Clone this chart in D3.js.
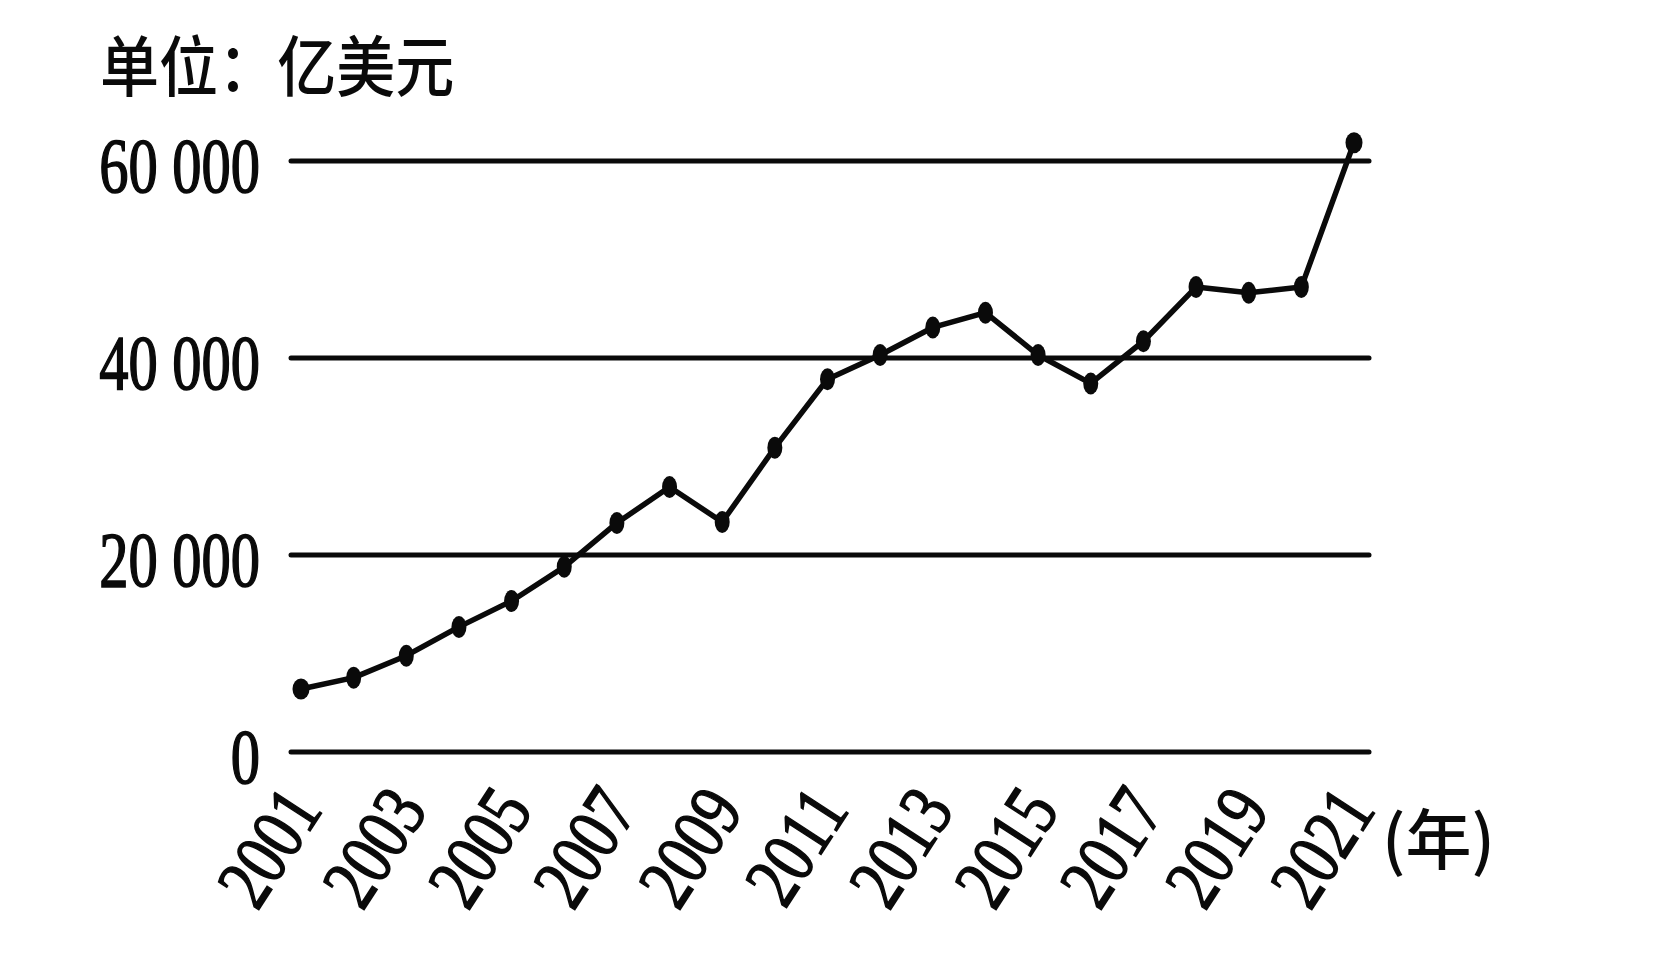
<!DOCTYPE html>
<html>
<head>
<meta charset="utf-8">
<script src="https://cdn.jsdelivr.net/npm/d3@7"></script>
<style>
  html, body { margin: 0; padding: 0; background: #ffffff; }
  svg { display: block; }
</style>
</head>
<body>
<svg id="chart" width="1680" height="964"></svg>
<script>
// ---- data ----
const years = [2001, 2002, 2003, 2004, 2005, 2006, 2007, 2008, 2009, 2010,
               2011, 2012, 2013, 2014, 2015, 2016, 2017, 2018, 2019, 2020, 2021];
const values = [6400, 7550, 9780, 12700, 15330, 18800, 23250, 26900, 23350, 30900,
                37850, 40300, 43100, 44600, 40300, 37420, 41700, 47200, 46620, 47200, 61850];
const yTicks = [0, 20000, 40000, 60000];
const yTickLabels = ["0", "20 000", "40 000", "60 000"];
const xTicks = [2001, 2003, 2005, 2007, 2009, 2011, 2013, 2015, 2017, 2019, 2021];
const unitLabel = "单位：亿美元";
const yearUnit = "(年)";

// ---- layout ----
const svg = d3.select("#chart");
const x = d3.scaleLinear().domain([2001, 2021]).range([301, 1354]);
const y = d3.scaleLinear().domain([0, 60000]).range([752, 161]);
const gridLeft = x.range()[0] - 10;
const gridRight = x.range()[1] + 15;
const ink = "#0a0a0a";
const numFont = "'Liberation Serif', 'DejaVu Serif', serif";
const cjkFont = "'Noto Sans CJK SC', 'Noto Sans', sans-serif";

// unit label
svg.append("text")
  .attr("transform", "translate(100,91) scale(0.895,1)")
  .attr("font-family", cjkFont)
  .attr("font-size", 66)
  .attr("font-weight", 500)
  .attr("fill", ink)
  .text(unitLabel);

// gridlines
svg.append("g").selectAll("line")
  .data(yTicks)
  .join("line")
  .attr("x1", gridLeft)
  .attr("x2", gridRight)
  .attr("y1", d => y(d))
  .attr("y2", d => y(d))
  .attr("stroke", ink)
  .attr("stroke-width", 5)
  .attr("stroke-linecap", "round");

// y axis labels
const yAxis = d3.axisLeft(y)
  .tickValues(yTicks)
  .tickSize(0)
  .tickFormat((d, i) => yTickLabels[i]);
const yg = svg.append("g").attr("transform", `translate(${gridLeft},0)`).call(yAxis);
yg.select(".domain").remove();
yg.selectAll(".tick text")
  .attr("font-family", numFont)
  .attr("font-size", 78)
  .attr("fill", ink)
  .attr("stroke", ink)
  .attr("stroke-width", 1.6)
  .attr("text-anchor", "end")
  .attr("dy", null)
  .attr("x", -31 / 0.75)
  .attr("y", 30)
  .attr("transform", "scale(0.75,1)");

// x axis labels
const xAxis = d3.axisBottom(x)
  .tickValues(xTicks)
  .tickSize(0)
  .tickFormat(d3.format("d"));
const xg = svg.append("g").attr("transform", `translate(0,${y(0)})`).call(xAxis);
xg.select(".domain").remove();
xg.selectAll(".tick text")
  .attr("font-family", numFont)
  .attr("font-size", 76)
  .attr("fill", ink)
  .attr("stroke", ink)
  .attr("stroke-width", 1.6)
  .attr("text-anchor", "end")
  .attr("dy", null)
  .attr("x", 0)
  .attr("y", 0)
  .attr("transform", "translate(22,58) rotate(-57) scale(0.8,1)");

// year unit
svg.append("text")
  .attr("x", x(2021) + 28)
  .attr("y", y(0) + 112)
  .attr("font-family", cjkFont)
  .attr("font-size", 66)
  .attr("font-weight", 500)
  .attr("fill", ink)
  .text(yearUnit);

// data line
const line = d3.line().x((d, i) => x(years[i])).y(d => y(d));
svg.append("path")
  .datum(values)
  .attr("d", line)
  .attr("fill", "none")
  .attr("stroke", ink)
  .attr("stroke-width", 5.5)
  .attr("stroke-linejoin", "round")
  .attr("stroke-linecap", "round");

// markers
svg.append("g").selectAll("ellipse")
  .data(values)
  .join("ellipse")
  .attr("cx", (d, i) => x(years[i]))
  .attr("cy", d => y(d))
  .attr("rx", (d, i) => (i === 0 || i === values.length - 1) ? 8.5 : 7.5)
  .attr("ry", (d, i) => (i === 0 || i === values.length - 1) ? 10.5 : 11)
  .attr("fill", ink);
</script>
</body>
</html>
